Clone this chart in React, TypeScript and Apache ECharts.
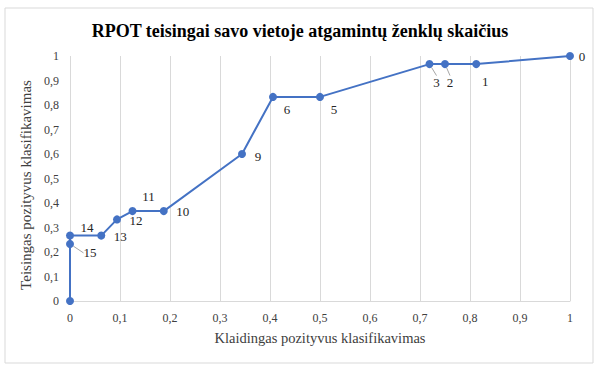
import React, { useEffect, useRef } from "react";
import * as echarts from "echarts";

const titleText = "RPOT teisingai savo vietoje atgamintų ženklų skaičius";
const xName = "Klaidingas pozityvus klasifikavimas";
const yName = "Teisingas pozityvus klasifikavimas";

const fpr = [0, 0, 0, 0.0625, 0.094, 0.125, 0.1875, 0.344, 0.406, 0.5, 0.719, 0.75, 0.8125, 1];
const tpr = [0, 0.233, 0.267, 0.267, 0.333, 0.367, 0.367, 0.6, 0.833, 0.833, 0.967, 0.967, 0.967, 1];
const pointLabels = ["", "15", "14", "13", "12", "11", "10", "9", "6", "5", "3", "2", "1", "0"];
// label offsets (dx, dy) from point, and whether a leader line is drawn
const labelDx = [0, 20, 17, 19, 19, 16, 19, 16, 14, 14, 7, 5, 9, 12];
const labelDy = [0, 9, -8, 1, 1, -15, 0, 2, 13, 13, 18, 18, 17, 0];
const leader = [false, true, false, false, false, false, false, false, false, false, true, true, false, false];

const FONT = "'Times New Roman', 'Liberation Serif', serif";
const fmt = (v: number) => Number(v.toFixed(1)).toString().replace(".", ",");

export default function App() {
  const ref = useRef<HTMLDivElement>(null);
  useEffect(() => {
    if (!ref.current) return;
    const chart = echarts.init(ref.current, undefined, { renderer: "svg" });
    const data = fpr.map((x, i) => ({
      value: [x, tpr[i]],
      label: {
        show: pointLabels[i] !== "",
        formatter: pointLabels[i],
        position: "inside" as const,
      },
      labelLine: { show: leader[i] },
    }));
    chart.setOption({
      animation: false,
      backgroundColor: "#ffffff",
      textStyle: { fontFamily: FONT },
      title: {
        text: titleText,
        left: "center",
        top: 17,
        textStyle: {
          fontFamily: FONT,
          fontWeight: "bold",
          fontSize: 18,
          color: "#000000",
        },
      },
      graphic: [
        {
          type: "rect",
          shape: { x: 5, y: 8, width: 588, height: 355 },
          style: { fill: "none", stroke: "#d9d9d9", lineWidth: 1 },
          silent: true,
          z: -1,
        },
      ],
      grid: { left: 70, right: 30, top: 56, bottom: 67 },
      xAxis: {
        type: "value",
        min: 0,
        max: 1,
        interval: 0.1,
        name: xName,
        nameLocation: "middle",
        nameGap: 29,
        nameTextStyle: { fontFamily: FONT, fontSize: 14.5, color: "#404040" },
        axisLine: { show: true, lineStyle: { color: "#d9d9d9" } },
        axisTick: { show: false },
        axisLabel: {
          formatter: fmt,
          fontFamily: FONT,
          fontSize: 12,
          color: "#404040",
          margin: 11,
        },
        splitLine: { show: true, lineStyle: { color: "#d9d9d9" } },
      },
      yAxis: {
        type: "value",
        min: 0,
        max: 1,
        interval: 0.1,
        name: yName,
        nameLocation: "middle",
        nameGap: 32,
        nameTextStyle: {
          fontFamily: FONT,
          fontSize: 15,
          color: "#404040",
          padding: [0, 13, 0, 0],
        },
        axisLine: { show: false },
        axisTick: { show: false },
        axisLabel: {
          formatter: fmt,
          fontFamily: FONT,
          fontSize: 12,
          color: "#404040",
          margin: 11,
        },
        splitLine: { show: false },
      },
      series: [
        {
          type: "line",
          data,
          symbol: "circle",
          symbolSize: 8,
          showAllSymbol: true,
          lineStyle: { color: "#4472c4", width: 2 },
          itemStyle: { color: "#4472c4" },
          label: {
            fontFamily: FONT,
            fontSize: 13,
            color: "#262626",
          },
          labelLine: { show: false, lineStyle: { color: "#a6a6a6", width: 1 } },
          labelLayout: (params: any) => {
            const i = params.dataIndex;
            return { dx: labelDx[i], dy: labelDy[i] };
          },
        },
      ],
    });
    return () => chart.dispose();
  }, []);
  return (
    <div
      ref={ref}
      style={{ position: "fixed", left: 0, top: 0, width: 600, height: 368 }}
    />
  );
}
